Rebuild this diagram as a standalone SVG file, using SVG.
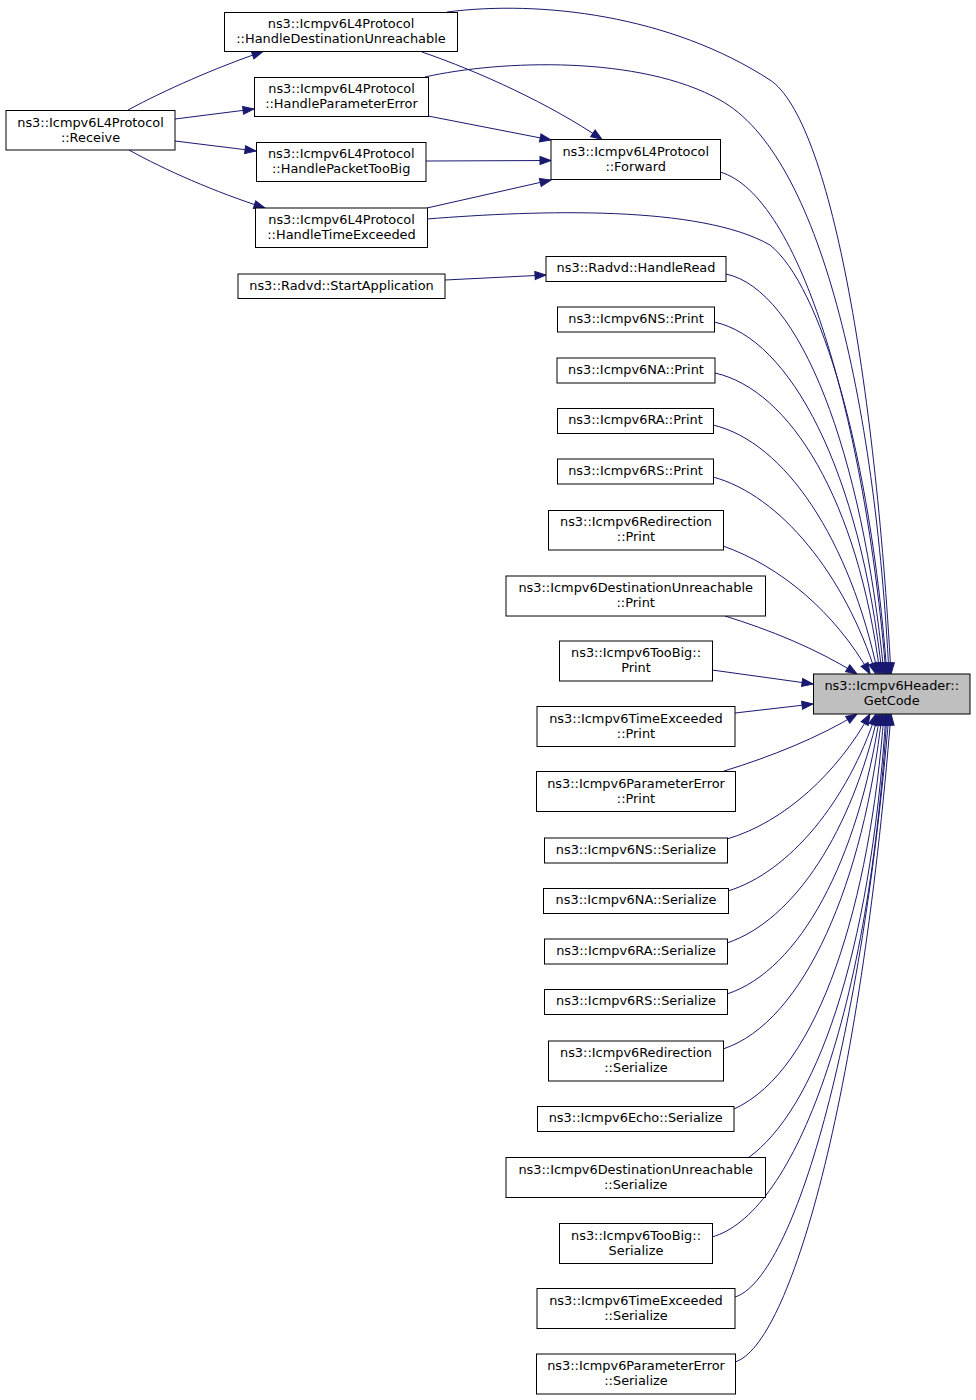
<svg xmlns="http://www.w3.org/2000/svg" width="976" height="1400" viewBox="0 0 976 1400">
<style>
.n rect{fill:#ffffff;stroke:#000000;stroke-width:1}
.n text{font-family:"DejaVu Sans","Liberation Sans",sans-serif;font-size:12.9px;fill:#000000;text-anchor:middle}
#n_getcode rect{fill:#bfbfbf}
#edges path{fill:none;stroke:#191970;stroke-width:1;marker-end:url(#ah)}
</style>
<defs>
<marker id="ah" markerUnits="userSpaceOnUse" markerWidth="12" markerHeight="9" refX="11" refY="4" orient="auto" overflow="visible">
<path d="M0,0 L11,4 L0,8 Z" fill="#191970" stroke="#191970" stroke-width="1"/>
</marker>
</defs>
<rect x="0" y="0" width="976" height="1400" fill="#ffffff"/>
<g id="edges">
<path d="M128,110 C165,90 215,68 263,51.5"/>
<path d="M175,119 L254,109"/>
<path d="M175,141 L256,151"/>
<path d="M129,150 C165,170 215,192 265,208"/>
<path d="M422,52 C480,72 550,104 602,139.5"/>
<path d="M428,116 L551,140"/>
<path d="M426,161 L551,160.5"/>
<path d="M427,208 L551,180"/>
<path d="M445,280 L546,275"/>
<path d="M447,12 C540,0 670,15 770,80 C830,120 875,380 891,674"/>
<path d="M425,77 C500,60 640,55 720,100 C820,155 875,400 889,674"/>
<path d="M427,219 C540,210 700,205 770,245 C820,285 870,450 887,674"/>
<path d="M720,172 C800,195 865,420 886,674"/>
<path d="M726,274 C800,290 862,450 884,674"/>
<path d="M714,322 C790,338 860,470 882,674"/>
<path d="M715,373 C790,390 858,500 880,674"/>
<path d="M713,425 C785,442 850,540 878,674"/>
<path d="M713,477 C780,495 845,575 876,674"/>
<path d="M723,546 C780,566 835,612 870,674"/>
<path d="M725,616 C770,630 815,648 857,674"/>
<path d="M712,670 L813,684"/>
<path d="M735,713 L813,704"/>
<path d="M724,771 C770,757 820,737 857,714"/>
<path d="M727,839 C785,822 838,772 870,714"/>
<path d="M728,891 C790,872 848,800 876,714"/>
<path d="M727,943 C795,920 852,830 878,714"/>
<path d="M727,994 C800,970 858,860 880,714"/>
<path d="M723,1049 C805,1022 864,880 882,714"/>
<path d="M734,1109 C820,1070 870,900 884,714"/>
<path d="M748,1158 C815,1110 870,960 886,714"/>
<path d="M712,1237 C790,1215 868,1030 887,714"/>
<path d="M735,1297 C790,1280 860,1060 889,714"/>
<path d="M735,1362 C790,1345 860,1100 891,714"/>
</g>
<g id="n_receive" class="n"><rect x="6" y="110.5" width="169" height="39.5"/><text x="90.5" y="126.5">ns3::Icmpv6L4Protocol</text><text x="90.5" y="141.5">::Receive</text></g>
<g id="n_hdu" class="n"><rect x="224.5" y="12.5" width="233" height="39"/><text x="341" y="28">ns3::Icmpv6L4Protocol</text><text x="341" y="43">::HandleDestinationUnreachable</text></g>
<g id="n_hpe" class="n"><rect x="254.5" y="77.5" width="174" height="39"/><text x="341.5" y="93">ns3::Icmpv6L4Protocol</text><text x="341.5" y="108">::HandleParameterError</text></g>
<g id="n_hptb" class="n"><rect x="256.5" y="142.5" width="169.5" height="39"/><text x="341.2" y="158">ns3::Icmpv6L4Protocol</text><text x="341.2" y="173">::HandlePacketTooBig</text></g>
<g id="n_hte" class="n"><rect x="255.5" y="208" width="172" height="39.5"/><text x="341.5" y="223.5">ns3::Icmpv6L4Protocol</text><text x="341.5" y="238.5">::HandleTimeExceeded</text></g>
<g id="n_startapp" class="n"><rect x="238" y="274" width="207" height="24.5"/><text x="341.5" y="290">ns3::Radvd::StartApplication</text></g>
<g id="n_forward" class="n"><rect x="551" y="139.5" width="169.5" height="40"/><text x="635.7" y="155.5">ns3::Icmpv6L4Protocol</text><text x="635.7" y="170.5">::Forward</text></g>
<g id="n_handleread" class="n"><rect x="546" y="256.5" width="180" height="25"/><text x="636" y="272">ns3::Radvd::HandleRead</text></g>
<g id="n_ns_print" class="n"><rect x="557.5" y="307" width="157" height="25"/><text x="636" y="322.5">ns3::Icmpv6NS::Print</text></g>
<g id="n_na_print" class="n"><rect x="557" y="358" width="158" height="25"/><text x="636" y="373.5">ns3::Icmpv6NA::Print</text></g>
<g id="n_ra_print" class="n"><rect x="557.5" y="408.5" width="156" height="25"/><text x="635.5" y="424">ns3::Icmpv6RA::Print</text></g>
<g id="n_rs_print" class="n"><rect x="557.5" y="459" width="156" height="25"/><text x="635.5" y="474.5">ns3::Icmpv6RS::Print</text></g>
<g id="n_redir_print" class="n"><rect x="548.5" y="510.5" width="175" height="39.5"/><text x="636" y="526">ns3::Icmpv6Redirection</text><text x="636" y="541">::Print</text></g>
<g id="n_du_print" class="n"><rect x="506" y="576" width="259.5" height="40"/><text x="635.7" y="592">ns3::Icmpv6DestinationUnreachable</text><text x="635.7" y="607">::Print</text></g>
<g id="n_tb_print" class="n"><rect x="559.5" y="641" width="153" height="40"/><text x="636" y="657">ns3::Icmpv6TooBig::</text><text x="636" y="672">Print</text></g>
<g id="n_te_print" class="n"><rect x="537" y="706.5" width="198" height="40"/><text x="636" y="722.5">ns3::Icmpv6TimeExceeded</text><text x="636" y="737.5">::Print</text></g>
<g id="n_pe_print" class="n"><rect x="536.5" y="771.5" width="199" height="40"/><text x="636" y="787.5">ns3::Icmpv6ParameterError</text><text x="636" y="802.5">::Print</text></g>
<g id="n_ns_ser" class="n"><rect x="544.5" y="838" width="183" height="25"/><text x="636" y="853.5">ns3::Icmpv6NS::Serialize</text></g>
<g id="n_na_ser" class="n"><rect x="543.5" y="888.5" width="185" height="25"/><text x="636" y="904">ns3::Icmpv6NA::Serialize</text></g>
<g id="n_ra_ser" class="n"><rect x="544.5" y="939" width="183" height="25"/><text x="636" y="954.5">ns3::Icmpv6RA::Serialize</text></g>
<g id="n_rs_ser" class="n"><rect x="544.5" y="989.5" width="183" height="25"/><text x="636" y="1005">ns3::Icmpv6RS::Serialize</text></g>
<g id="n_redir_ser" class="n"><rect x="548.5" y="1041" width="175" height="40"/><text x="636" y="1057">ns3::Icmpv6Redirection</text><text x="636" y="1072">::Serialize</text></g>
<g id="n_echo_ser" class="n"><rect x="537.5" y="1106.5" width="196.5" height="25"/><text x="635.7" y="1122">ns3::Icmpv6Echo::Serialize</text></g>
<g id="n_du_ser" class="n"><rect x="506" y="1157.5" width="259.5" height="40"/><text x="635.7" y="1173.5">ns3::Icmpv6DestinationUnreachable</text><text x="635.7" y="1188.5">::Serialize</text></g>
<g id="n_tb_ser" class="n"><rect x="559.5" y="1223.5" width="153" height="40"/><text x="636" y="1239.5">ns3::Icmpv6TooBig::</text><text x="636" y="1254.5">Serialize</text></g>
<g id="n_te_ser" class="n"><rect x="537" y="1288.5" width="198" height="40"/><text x="636" y="1304.5">ns3::Icmpv6TimeExceeded</text><text x="636" y="1319.5">::Serialize</text></g>
<g id="n_pe_ser" class="n"><rect x="536.5" y="1354" width="199" height="40"/><text x="636" y="1370">ns3::Icmpv6ParameterError</text><text x="636" y="1385">::Serialize</text></g>
<g id="n_getcode" class="n"><rect x="813.5" y="674" width="156.5" height="40"/><text x="891.7" y="690">ns3::Icmpv6Header::</text><text x="891.7" y="705">GetCode</text></g>
</svg>
